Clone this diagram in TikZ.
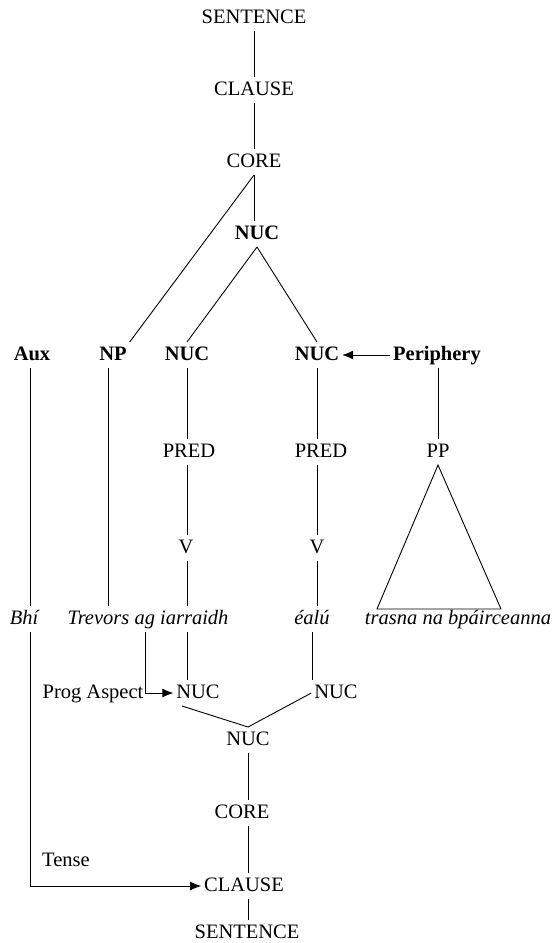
\documentclass[tikz,border=0pt]{standalone}
\usepackage{fontspec}
\setmainfont{Liberation Serif}
\usetikzlibrary{arrows}
\usetikzlibrary{arrows.meta}

\tikzset{
  lab/.style={anchor=base, inner sep=0pt, outer sep=3pt, text height=15pt, text depth=5pt, font=\fontsize{20.5}{24}\selectfont},
  blab/.style={lab, font=\fontsize{20.5}{24}\selectfont\bfseries},
  ilab/.style={lab, font=\fontsize{20.5}{24}\selectfont\itshape},
  arr/.style={-{Latex[length=11pt,width=9pt]}}
}

\begin{document}
\begin{tikzpicture}[x=1pt,y=-1pt,line width=0.9pt]
\useasboundingbox (0,0) rectangle (557,943);
\node[lab] (sTop) at (254,23) {SENTENCE};
\node[lab] (cTop) at (254,95) {CLAUSE};
\node[lab] (coTop) at (254,167) {CORE};
\node[blab] (nucTop) at (257,239) {NUC};
\node[blab] (aux) at (32,360) {Aux};
\node[blab] (np) at (113,360) {NP};
\node[blab] (nucA) at (187,360) {NUC};
\node[blab] (nucB) at (317,360) {NUC};
\node[blab] (peri) at (437,360) {Periphery};
\node[lab] (predA) at (189,457) {PRED};
\node[lab] (predB) at (321,457) {PRED};
\node[lab] (pp) at (438,457) {PP};
\node[lab] (vA) at (186,553) {V};
\node[lab] (vB) at (317,553) {V};
\node[ilab] (bhi) at (24,624) {Bhí};
\node[ilab] (trev) at (148,624) {Trevors ag iarraidh};
\node[ilab] (ealu) at (312,624) {éalú};
\node[ilab] (trasna) at (458,624) {trasna na bpáirceanna};
\node[lab] (prog) at (93,698) {Prog Aspect};
\node[lab] (nucL) at (198,698) {NUC};
\node[lab] (nucR) at (336,698) {NUC};
\node[lab] (nucM) at (248,745) {NUC};
\node[lab] (coreB) at (242,818) {CORE};
\node[lab] (tense) at (66,866) {Tense};
\node[lab] (clB) at (244,891) {CLAUSE};
\node[lab] (sB) at (247,938) {SENTENCE};

\draw (sTop.south) -- (cTop.north);
\draw (cTop.south) -- (coTop.north);
\draw (coTop.south) -- (nucTop.north -| coTop.south);
\draw (coTop.south) -- (np.north east);
\draw (nucTop.south) -- (nucA.north);
\draw (nucTop.south) -- (nucB.north);
\draw[arr] (peri.west) -- (nucB.east);

\draw ([xshift=-2pt]aux.south) -- ([xshift=-2pt]aux.south |- bhi.north);
\draw ([xshift=-5pt]np.south) -- ([xshift=-5pt]np.south |- trev.north);
\draw (nucA.south) -- (nucA.south |- predA.north);
\draw (predA.south -| nucA) -- (vA.north -| nucA);
\draw (vA.south -| nucA) -- (trev.north -| nucA);
\draw (nucB.south) -- (nucB.south |- predB.north);
\draw (predB.south -| nucB) -- (vB.north -| nucB);
\draw (vB.south -| nucB) -- (ealu.north -| nucB);
\draw (peri.south -| pp) -- (pp.north);
\draw (pp.south) -- ++(-61,144) -- ++(124,0) -- cycle;

\draw[arr] ([xshift=6pt]bhi.south) |- (clB.west);
\draw[arr] ([xshift=-3pt]trev.south) |- (nucL.west);
\draw (trev.south -| nucA) -- (nucL.north -| nucA);
\draw (ealu.south) -- (ealu.south |- nucR.north);
\draw ([xshift=-16pt]nucL.south) -- (nucM.north) -- (nucR.west);
\draw (nucM.south) -- (coreB.north -| nucM);
\draw (coreB.south -| nucM) -- (clB.north -| nucM);
\draw (clB.south -| nucM) -- (sB.north -| nucM);
\end{tikzpicture}
\end{document}
